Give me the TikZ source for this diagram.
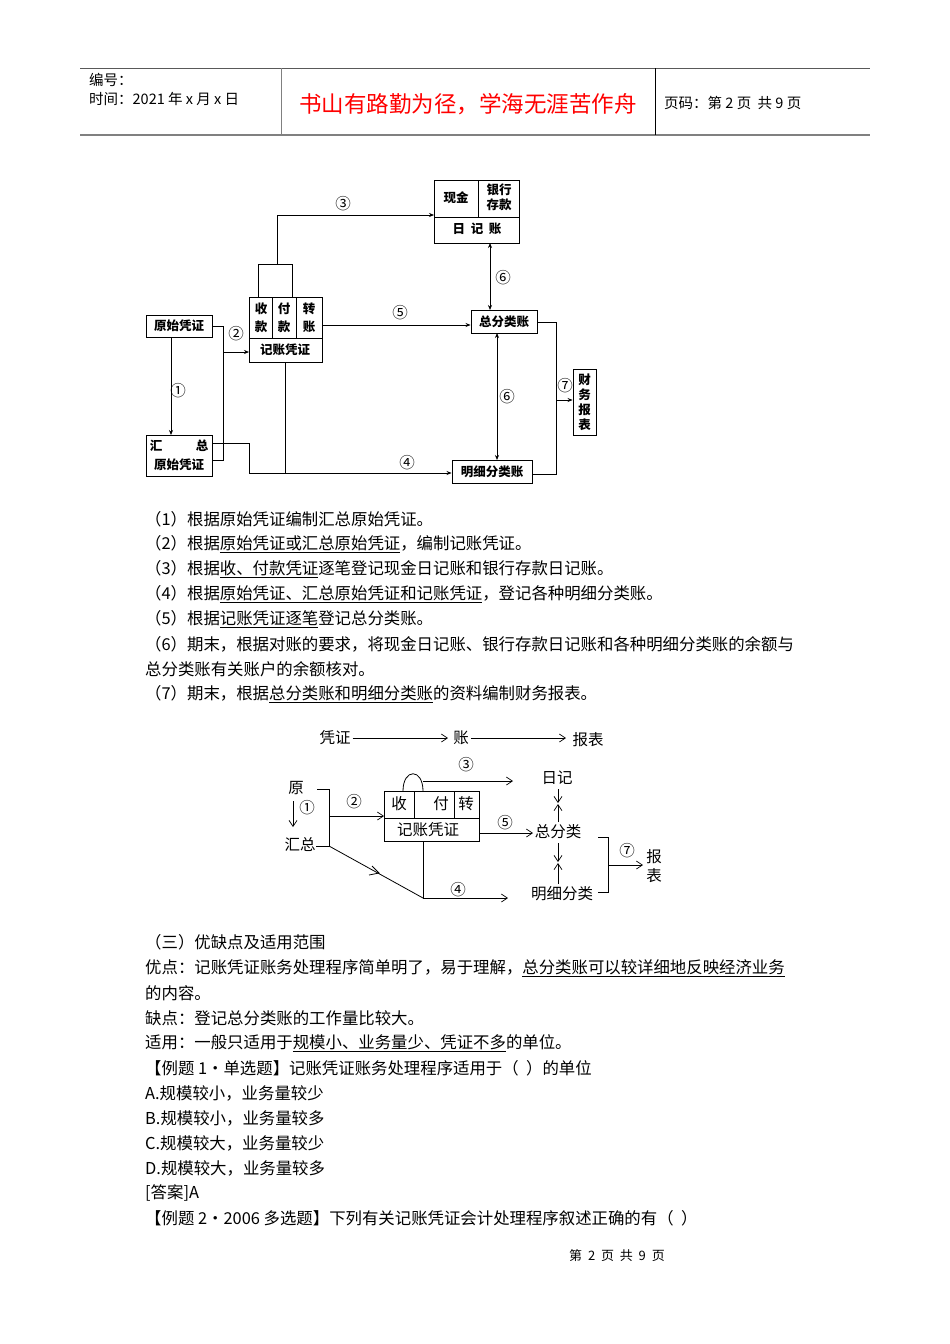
\documentclass[tikz,border=0pt]{standalone}
\usepackage{fontspec}
\setmainfont{Noto Sans CJK SC}
\usetikzlibrary{arrows.meta}
\begin{document}
\begin{tikzpicture}[x=1pt,y=-1pt,
  bx/.style={draw,line width=0.9pt,inner sep=0pt},
  ln/.style={line width=0.7pt},
  ar/.style={ln,-{Stealth[length=5pt,width=4pt]}},
  dar/.style={ln,{Stealth[length=5pt,width=4pt]}-{Stealth[length=5pt,width=4pt]}},
  oar/.style={line width=0.7pt,-{Straight Barb[length=6pt,width=8pt]}},
  lb/.style={font=\fontsize{12.5}{12.5}\selectfont\bfseries,inner sep=0pt},
  lb2/.style={font=\fontsize{15.5}{15.5}\selectfont,inner sep=0pt},
  tx/.style={font=\fontsize{16.4}{17}\selectfont,anchor=west,inner sep=0pt},
  hd/.style={font=\fontsize{14.5}{14.5}\selectfont,anchor=west,inner sep=0pt}]
\useasboundingbox (0,0) rectangle (950,1344);
\fill[white] (0,0) rectangle (950,1344);
% header
\draw[line width=0.8pt,gray!70!black] (80,68) -- (870,68);
\draw[line width=1.2pt,gray] (80,135) -- (870,135);
\draw[line width=0.8pt,gray] (281,68) -- (281,135);
\draw[line width=0.8pt] (655,68) -- (655,135);
\node[hd] (h1) at (89,80) {编号：};
\node[hd] (h2) at (89,99) {时间：2021 年 x 月 x 日};
\node[font=\fontsize{22.5}{22.5}\selectfont,text=red,inner sep=0pt] (h3) at (468,104) {书山有路勤为径，学海无涯苦作舟};
\node[hd] (h4) at (664,103) {页码：第 2 页 \ 共 9 页};
% ---- top diagram
\draw[line width=0.9pt] (434,180) rectangle (519,243);
\draw[line width=0.9pt] (434,217) -- (519,217) (478,180) -- (478,217);
\node[lb] (xj) at (456,198) {现金};
\node[lb,align=center,font=\fontsize{12.5}{15}\selectfont\bfseries] (yh) at (499,197) {银行\\存款};
\node[lb] (rjz) at (477,229) {日\ \ 记\ \ 账};
\coordinate (rjL) at (434,215); \coordinate (rjB) at (490,243);
\draw[line width=0.9pt] (249,297) rectangle (322,362);
\draw[line width=0.9pt] (249,338) -- (322,338) (272,297) -- (272,338) (296,297) -- (296,338);
\node[lb,align=center,font=\fontsize{12.5}{18}\selectfont\bfseries] (sk) at (261,318) {收\\款};
\node[lb,align=center,font=\fontsize{12.5}{18}\selectfont\bfseries] (fk) at (284,318) {付\\款};
\node[lb,align=center,font=\fontsize{12.5}{18}\selectfont\bfseries] (zz) at (309,318) {转\\账};
\node[lb] (jzpz) at (285,350) {记账凭证};
\draw[line width=0.9pt] (258,297) -- (258,264) -- (292,264) -- (292,297);
\coordinate (smt) at (277,264);
\draw[ar] (smt) -- (277,215) -- (rjL);
\node[lb2] (c3) at (343,204) {③};
\node[bx,minimum width=66pt,minimum height=22pt,lb] (ys) at (179,326) {原始凭证};
\node[bx,minimum width=66pt,minimum height=41pt] (hz) at (179,455.5) {};
\node[lb] (hz1) at (156,446) {汇}; \node[lb] (hz2) at (202,446) {总};
\node[lb] (hz3) at (179,465) {原始凭证};
\draw[ar] (171,337) -- (171,435);
\node[lb2] (c1) at (178,391) {①};
\draw[ln] (ys.east) -- (223,326) -- (223,460) -- (212,460);
\draw[ar] (223,352) -- (249,352);
\node[lb2] (c2) at (236,334) {②};
\node[bx,minimum width=66pt,minimum height=23pt,lb] (zfl) at (504,321.5) {总分类账};
\node[bx,minimum width=80pt,minimum height=23pt,lb] (mx) at (492,471.5) {明细分类账};
\draw[ln] (212,443) -- (249,443) -- (249,473);
\draw[ar] (249,473) -- (mx.west|-0,473);
\draw[ln] (285,362) -- (285,473);
\node[lb2] (c4) at (407,463) {④};
\draw[ar] (322,325) -- (zfl.west|-0,325);
\node[lb2] (c5) at (400,313) {⑤};
\draw[dar] (rjB) -- (490,310);
\node[lb2] (c6a) at (503,278) {⑥};
\draw[dar] (497,333) -- (497,460);
\node[lb2] (c6b) at (507,397) {⑥};
\node[bx,minimum width=23pt,minimum height=66pt,align=center,font=\fontsize{12.5}{15}\selectfont\bfseries] (cw) at (584.5,402) {财\\务\\报\\表};
\draw[ln] (537,322) -- (556,322) -- (556,474) -- (532,474);
\draw[ar] (556,400) -- (cw.west|-0,400);
\node[lb2] (c7) at (565,386) {⑦};
% ---- text 1
\node[tx] (t1) at (145,519) {（1）根据原始凭证编制汇总原始凭证。};
\node[tx] (t2) at (145,544) {（2）根据\underline{原始凭证或汇总原始凭证}，编制记账凭证。};
\node[tx] (t3) at (145,569) {（3）根据\underline{收、付款凭证}逐笔登记现金日记账和银行存款日记账。};
\node[tx] (t4) at (145,594) {（4）根据\underline{原始凭证、汇总原始凭证和记账凭证}，登记各种明细分类账。};
\node[tx] (t5) at (145,619) {（5）根据\underline{记账凭证逐笔}登记总分类账。};
\node[tx] (t6) at (145,644) {（6）期末，根据对账的要求，将现金日记账、银行存款日记账和各种明细分类账的余额与};
\node[tx] (t6b) at (145,669) {总分类账有关账户的余额核对。};
\node[tx] (t7) at (145,694) {（7）期末，根据\underline{总分类账和明细分类账}的资料编制财务报表。};
% ---- second diagram
\node[lb2] (pz) at (335,738) {凭证};
\node[lb2] (zh) at (461,738) {账};
\node[lb2] (bb) at (588,740) {报表};
\draw[oar] (pz.east) ++(2,0) -- (448,738);
\draw[oar] (zh.east) ++(2,0) -- (566,738);
\draw[line width=0.8pt] (384,791) rectangle (479,841);
\draw[line width=0.8pt] (384,818) -- (479,818) (414,791) -- (414,818) (454,791) -- (454,818);
\node[lb2] (s2) at (399,804) {收};
\node[lb2] (f2) at (441,804) {付};
\node[lb2] (z2) at (466,804) {转};
\node[lb2] (jz2) at (428,830) {记账凭证};
\draw[line width=0.8pt] (403,791) .. controls (403,768) and (423,768) .. (423,791);
\draw[oar] (423,781) -- (513,781);
\node[lb2] (d3) at (466,765) {③};
\node[lb2] (rj2) at (557,778) {日记};
\node[lb2] (zf2) at (558,832) {总分类};
\node[lb2] (mx2) at (562,894) {明细分类};
\node[lb2,align=center,font=\fontsize{15.5}{19}\selectfont] (bb2) at (654,866) {报\\表};
\node[lb2] (y2) at (296,788) {原};
\node[lb2] (hz2b) at (300,845) {汇总};
\draw[oar] (293,801) -- (293,827);
\node[lb2] (d1) at (307,808) {①};
\draw[line width=0.8pt] (317,789) -- (329,789) -- (329,846) -- (316,846);
\draw[oar] (329,816) -- (384,816);
\node[lb2] (d2) at (354,802) {②};
\draw[line width=0.8pt] (329,846) -- (423,898);
\draw[line width=0.8pt] (372,866) -- (379,873) -- (369,875);
\draw[line width=0.8pt] (423,841) -- (423,898);
\draw[oar] (423,898) -- (508,898);
\node[lb2] (d4) at (458,890) {④};
\draw[oar] (479,833) -- (533,833);
\node[lb2] (d5) at (505,823) {⑤};
\draw[oar] (558,789) -- (558,803);
\draw[oar] (558,822) -- (558,804);
\draw[oar] (558,843) -- (558,862);
\draw[oar] (558,884) -- (558,863);
\draw[line width=0.8pt] (598,837) -- (608,837) -- (608,892) -- (598,892);
\draw[oar] (608,865) -- (643,865);
\node[lb2] (d7) at (627,851) {⑦};
% ---- text 2
\node[tx] (u1) at (145,942) {（三）优缺点及适用范围};
\node[tx] (u2) at (145,968) {优点：记账凭证账务处理程序简单明了，易于理解，\underline{总分类账可以较详细地反映经济业务}};
\node[tx] (u3) at (145,993) {的内容。};
\node[tx] (u4) at (145,1018) {缺点：登记总分类账的工作量比较大。};
\node[tx] (u5) at (145,1043) {适用：一般只适用于\underline{规模小、业务量少、凭证不多}的单位。};
\node[tx] (u6) at (145,1068) {【例题 1·单选题】记账凭证账务处理程序适用于（ \ ）的单位};
\node[tx] (u7) at (145,1093) {A.规模较小，业务量较少};
\node[tx] (u8) at (145,1118) {B.规模较小，业务量较多};
\node[tx] (u9) at (145,1143) {C.规模较大，业务量较少};
\node[tx] (u10) at (145,1168) {D.规模较大，业务量较多};
\node[tx] (u11) at (145,1193) {[答案]A};
\node[tx] (u12) at (145,1218) {【例题 2·2006 多选题】下列有关记账凭证会计处理程序叙述正确的有（ \ ）};
\node[font=\fontsize{13}{13}\selectfont,inner sep=0pt] (ft) at (617,1256) {第 \ 2 \ 页 \ 共 \ 9 \ 页};
\end{tikzpicture}
\end{document}
